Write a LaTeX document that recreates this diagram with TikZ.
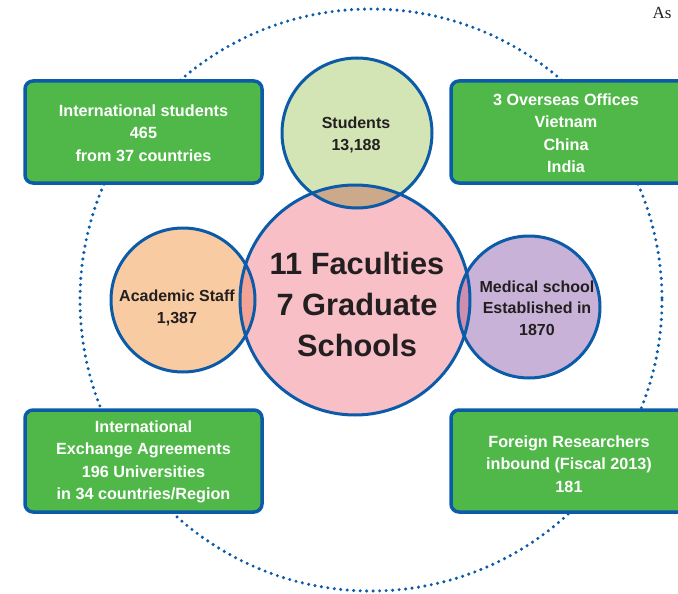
\documentclass[tikz,border=0pt]{standalone}
\usepackage{fontspec}
\setmainfont{Liberation Sans}
\newfontfamily\serifas{Liberation Serif}
\definecolor{boxgreen}{HTML}{50B848}
\definecolor{edgeblue}{HTML}{0B5BA8}
\definecolor{stugreen}{HTML}{D3E5B4}
\definecolor{facpink}{HTML}{F8BFC7}
\definecolor{acaorange}{HTML}{F9CBA2}
\definecolor{medpurple}{HTML}{C8B2D8}
\definecolor{ovstu}{HTML}{CBA98A}
\definecolor{ovaca}{HTML}{F3A393}
\definecolor{ovmed}{HTML}{CF8DAF}
\definecolor{txtdark}{HTML}{231F20}
\tikzset{
  infobox/.style={draw=edgeblue, line width=3.5pt, fill=boxgreen, rounded corners=8pt},
  boxtext/.style={text=white, font=\fontsize{16.2}{22.5}\selectfont\bfseries, align=center},
  circtext/.style={text=txtdark, font=\fontsize{16}{21.3}\selectfont\bfseries, align=center},
  bigtext/.style={text=txtdark, font=\fontsize{30.8}{41}\selectfont\bfseries, align=center},
  ring/.style={draw=edgeblue, line width=3pt},
}
\begin{document}
\begin{tikzpicture}[x=1pt,y=-1pt]
\useasboundingbox (0,0) rectangle (678,594);
% dotted outer circle
\draw[edgeblue, line width=3.4pt, dash pattern=on 0pt off 6.5pt, line cap=round] (371,300) circle (291);
% boxes
\draw[infobox] (25,81) rectangle (262,183);
\node[boxtext] (intstu) at (143.5,133) {International students\\465\\from 37 countries};
\draw[infobox] (451,81) rectangle (690,183);
\node[boxtext] (overseas) at (566,133) {3 Overseas Offices\\Vietnam\\China\\India};
\draw[infobox] (25,410) rectangle (262,512);
\node[boxtext] (exch) at (143.5,462) {International\\Exchange Agreements\\196 Universities\\in 34 countries/Region};
\draw[infobox] (451,410) rectangle (690,512);
\node[boxtext] (foreign) at (569,464) {Foreign Researchers\\inbound (Fiscal 2013)\\181};
% circle fills
\coordinate (cfac) at (355,300);
\coordinate (cstu) at (357,133);
\coordinate (caca) at (183,300);
\coordinate (cmed) at (529,307);
\fill[stugreen] (cstu) circle (75);
\fill[acaorange] (caca) circle (72);
\fill[medpurple] (cmed) circle (71);
\fill[facpink] (cfac) circle (115);
\begin{scope}
  \clip (cfac) circle (115);
  \fill[ovstu] (cstu) circle (75);
  \fill[ovaca] (caca) circle (72);
  \fill[ovmed] (cmed) circle (71);
\end{scope}
% rings
\draw[ring] (cfac) circle (115);
\draw[ring] (cstu) circle (75);
\draw[ring] (caca) circle (72);
\draw[ring] (cmed) circle (71);
% texts
\node[circtext] (stu) at (356,135) {Students\\13,188};
\node[circtext] (aca) at (177,308) {Academic Staff\\1,387};
\node[circtext] (med) at (537,308) {Medical school\\Established in\\1870};
\node[bigtext] (fac) at (357,304) {11 Faculties\\7 Graduate\\Schools};
\node[font=\serifas\fontsize{17}{20}\selectfont, text=txtdark] (as) at (662,13) {As};
\end{tikzpicture}
\end{document}
